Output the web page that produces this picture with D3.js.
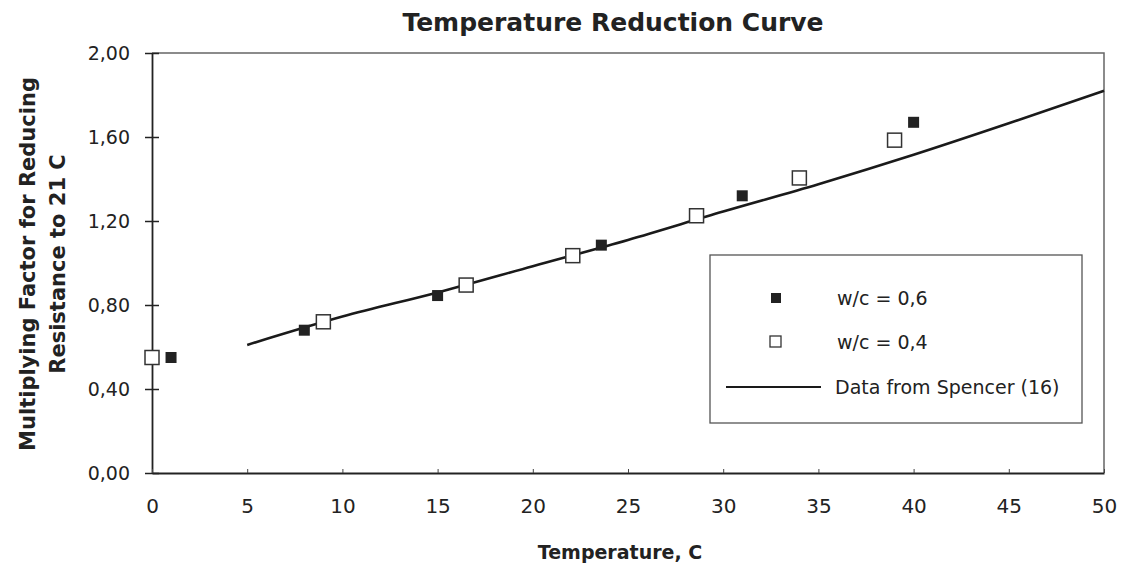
<!DOCTYPE html>
<html lang="en">
  <head>
    <meta charset="UTF-8" />
    <title>Temperature Reduction Curve</title>
    <script src="https://d3js.org/d3.v7.min.js"></script>
    <style>
      body { margin: 0; background: #fff; }
      text { font-family: "DejaVu Sans", sans-serif; fill: #222; }
    </style>
  </head>
  <body>
    <svg id="chart" width="1131" height="571"></svg>
    <script>
      // values
      const wc06Temp = [1, 8, 15, 23.6, 31, 40];
      const wc06Factor = [0.55, 0.68, 0.845, 1.085, 1.32, 1.67];
      const wc04Temp = [0, 9, 16.5, 22.1, 28.6, 34, 39];
      const wc04Factor = [0.55, 0.72, 0.895, 1.035, 1.225, 1.405, 1.585];
      const spencerTemp = [5, 10, 15, 20, 25, 30, 35, 40, 45, 50];
      const spencerFactor = [0.61, 0.745, 0.86, 0.985, 1.11, 1.245, 1.375, 1.515, 1.665, 1.82];
      const xTicks = [0, 5, 10, 15, 20, 25, 30, 35, 40, 45, 50];
      const yTicks = [0, 0.4, 0.8, 1.2, 1.6, 2.0];

      const svg = d3.select("#chart");
      const plotLeft = 152, plotRight = 1104, plotTop = 53, plotBottom = 473;

      const x = d3.scaleLinear().domain([0, 50]).range([plotLeft, plotRight]);
      const y = d3.scaleLinear().domain([0, 2]).range([plotBottom, plotTop]);
      const fmt = (d) => d3.format(".2f")(d).replace(".", ",");

      // frame (top and right sides)
      svg.append("path")
        .attr("d", `M${plotLeft},${plotTop}H${plotRight}V${plotBottom}`)
        .attr("fill", "none")
        .attr("stroke", "#666")
        .attr("stroke-width", 1.5);

      // y axis
      const yAxis = svg.append("g")
        .attr("transform", `translate(${plotLeft},0)`)
        .call(d3.axisLeft(y).tickValues(yTicks).tickFormat(fmt).tickSize(0).tickPadding(22));
      yAxis.select(".domain").attr("stroke", "#222").attr("stroke-width", 1.8);
      yAxis.selectAll(".tick text")
        .attr("font-size", 19)
        .attr("fill", "#444")
        .style("font-family", "'DejaVu Sans', sans-serif");
      yAxis.selectAll(".tick").append("line")
        .attr("x1", -7).attr("x2", 7)
        .attr("stroke", "#222").attr("stroke-width", 1.5);

      // x axis
      const xAxis = svg.append("g")
        .attr("transform", `translate(0,${plotBottom})`)
        .call(d3.axisBottom(x).tickValues(xTicks).tickSize(0).tickPadding(26));
      xAxis.select(".domain").attr("stroke", "#222").attr("stroke-width", 1.8);
      xAxis.selectAll(".tick text")
        .attr("font-size", 20)
        .attr("fill", "#444")
        .style("font-family", "'DejaVu Sans', sans-serif");
      xAxis.selectAll(".tick").append("line")
        .attr("y1", 0).attr("y2", -4)
        .attr("stroke", "#444").attr("stroke-width", 1);

      // Spencer curve
      const line = d3.line()
        .x((d) => x(d[0]))
        .y((d) => y(d[1]))
        .curve(d3.curveMonotoneX);
      svg.append("path")
        .datum(d3.zip(spencerTemp, spencerFactor))
        .attr("fill", "none")
        .attr("stroke", "#1a1a1a")
        .attr("stroke-width", 2.6)
        .attr("d", line);

      // w/c = 0.4 open squares
      const openSize = 14;
      svg.selectAll(".open")
        .data(d3.zip(wc04Temp, wc04Factor))
        .join("rect")
        .attr("class", "open")
        .attr("x", (d) => x(d[0]) - openSize / 2)
        .attr("y", (d) => y(d[1]) - openSize / 2)
        .attr("width", openSize)
        .attr("height", openSize)
        .attr("fill", "#fff")
        .attr("stroke", "#333")
        .attr("stroke-width", 1.5);

      // w/c = 0.6 filled squares
      const fillSize = 11;
      svg.selectAll(".filled")
        .data(d3.zip(wc06Temp, wc06Factor))
        .join("rect")
        .attr("class", "filled")
        .attr("x", (d) => x(d[0]) - fillSize / 2)
        .attr("y", (d) => y(d[1]) - fillSize / 2)
        .attr("width", fillSize)
        .attr("height", fillSize)
        .attr("fill", "#222");

      // legend
      const lg = svg.append("g").attr("transform", "translate(710,255)");
      lg.append("rect")
        .attr("width", 372).attr("height", 168)
        .attr("fill", "#fff").attr("stroke", "#555").attr("stroke-width", 1.3);
      lg.append("rect").attr("x", 61).attr("y", 38).attr("width", 10).attr("height", 10).attr("fill", "#222");
      lg.append("rect").attr("x", 60).attr("y", 81).attr("width", 11).attr("height", 11)
        .attr("fill", "#fff").attr("stroke", "#333").attr("stroke-width", 1.3);
      lg.append("line").attr("x1", 16).attr("x2", 111).attr("y1", 132).attr("y2", 132)
        .attr("stroke", "#1a1a1a").attr("stroke-width", 2.2);
      const lgText = [["w/c = 0,6", 43], ["w/c = 0,4", 87], ["Data from Spencer (16)", 132]];
      lg.selectAll(".lt")
        .data(lgText)
        .join("text")
        .attr("class", "lt")
        .attr("x", (d, i) => (i < 2 ? 127 : 125))
        .attr("y", (d) => d[1])
        .attr("dy", "0.35em")
        .attr("font-size", 19)
        .text((d) => d[0]);

      // titles
      svg.append("text")
        .attr("x", 613).attr("y", 22)
        .attr("text-anchor", "middle").attr("dy", "0.35em")
        .attr("font-size", 25).attr("font-weight", "bold")
        .attr("fill", "#333")
        .text("Temperature Reduction Curve");

      svg.append("text")
        .attr("x", 620).attr("y", 552)
        .attr("text-anchor", "middle").attr("dy", "0.35em")
        .attr("font-size", 19).attr("font-weight", "bold")
        .text("Temperature, C");

      const yTitle = svg.append("text")
        .attr("transform", "translate(28,264) rotate(-90)")
        .attr("text-anchor", "middle")
        .attr("font-size", 21).attr("font-weight", "bold")
        .attr("fill", "#333");
      yTitle.append("tspan").attr("x", 0).attr("dy", "0.35em").text("Multiplying Factor for Reducing");
      yTitle.append("tspan").attr("x", 0).attr("dy", "1.4em").text("Resistance to 21 C");
    </script>
  </body>
</html>
